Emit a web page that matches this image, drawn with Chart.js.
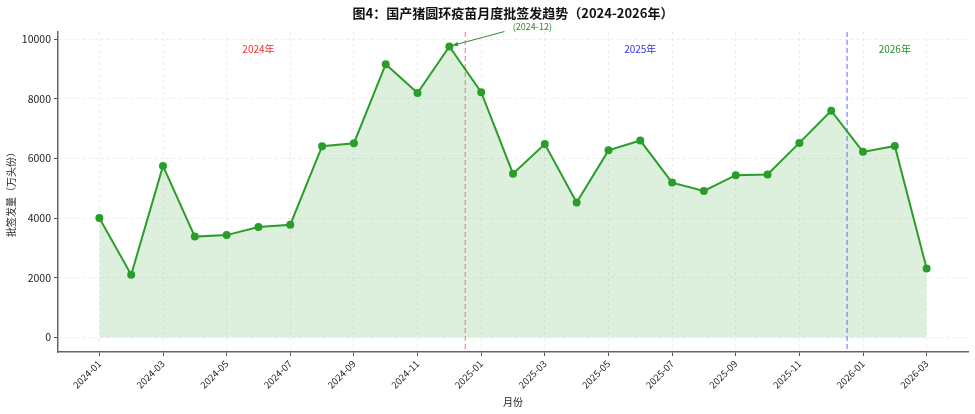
<!DOCTYPE html>
<html>
<head>
<meta charset="utf-8">
<script src="https://cdn.jsdelivr.net/npm/chart.js"></script>
<style>
	body { margin: 0; background: #fff; }
	#wrap { width: 975px; height: 414px; }
</style>
</head>
<body>
<div id="wrap"><canvas id="chart"></canvas></div>
<script>
	// monthly data, 2024-01 .. 2026-03
	const months = ['2024-01','2024-02','2024-03','2024-04','2024-05','2024-06','2024-07','2024-08','2024-09','2024-10','2024-11','2024-12',
		'2025-01','2025-02','2025-03','2025-04','2025-05','2025-06','2025-07','2025-08','2025-09','2025-10','2025-11','2025-12',
		'2026-01','2026-02','2026-03'];
	const values = [4000, 2100, 5750, 3380, 3430, 3700, 3780, 6410, 6510, 9160, 8190, 9750,
		8220, 5490, 6480, 4520, 6270, 6600, 5190, 4910, 5440, 5460, 6520, 7600,
		6220, 6420, 2310];
	const yTicks = [0, 2000, 4000, 6000, 8000, 10000];
	const xTickIdx = months.map((m, i) => i).filter(i => i % 2 === 0);
	const yearLabels = ['2024年', '2025年', '2026年'];

	const FONT = "'Noto Sans CJK SC', 'Noto Sans', sans-serif";
	const GREEN = '#2a9d2a';

	const peakIdx = values.indexOf(Math.max(...values));

	const overlay = {
		id: 'overlay',
		beforeDatasetsDraw(chart) {
			const {ctx, chartArea: a, scales: {x}} = chart;
			// year boundaries (mid-December)
			[[11.5, 'rgba(255,90,90,0.65)'], [23.5, 'rgba(90,90,255,0.7)']].forEach(([v, c]) => {
				const px = x.getPixelForValue(v);
				ctx.save();
				ctx.strokeStyle = c;
				ctx.lineWidth = 1.3;
				ctx.setLineDash([5, 3]);
				ctx.beginPath();
				ctx.moveTo(px, a.top);
				ctx.lineTo(px, a.bottom);
				ctx.stroke();
				ctx.restore();
			});
		},
		afterDatasetsDraw(chart) {
			const {ctx, chartArea: a, scales: {x, y}} = chart;
			ctx.save();
			ctx.font = '10px ' + FONT;
			ctx.textAlign = 'center';
			ctx.textBaseline = 'middle';
			const cols = ['#f03030', '#3030e8', '#2e8b2e'];
			[5, 17, 25].forEach((v, i) => {
				ctx.fillStyle = cols[i];
				ctx.fillText(yearLabels[i], x.getPixelForValue(v), a.top + 17);
			});
			// peak annotation
			const px = x.getPixelForValue(peakIdx), py = y.getPixelForValue(values[peakIdx]);
			ctx.font = '9px ' + FONT;
			ctx.fillStyle = '#2e8b2e';
			ctx.fillText('(' + months[peakIdx] + ')', px + 83, py - 20);
			const tx = px + 55, ty = py - 15, hx = px + 3, hy = py - 1;
			ctx.strokeStyle = '#2e8b2e';
			ctx.fillStyle = '#2e8b2e';
			ctx.lineWidth = 1;
			ctx.beginPath();
			ctx.moveTo(tx, ty);
			ctx.lineTo(hx, hy);
			ctx.stroke();
			const ang = Math.atan2(hy - ty, hx - tx);
			ctx.beginPath();
			ctx.moveTo(hx, hy);
			ctx.lineTo(hx - 6 * Math.cos(ang - 0.35), hy - 6 * Math.sin(ang - 0.35));
			ctx.lineTo(hx - 6 * Math.cos(ang + 0.35), hy - 6 * Math.sin(ang + 0.35));
			ctx.closePath();
			ctx.fill();
			ctx.restore();
		}
	};

	new Chart(document.getElementById('chart'), {
		type: 'line',
		data: {
			datasets: [{
				label: '批签发量',
				data: values.map((v, i) => ({x: i, y: v})),
				borderColor: GREEN,
				backgroundColor: 'rgba(44,160,44,0.16)',
				fill: 'origin',
				borderWidth: 2,
				pointRadius: 3,
				pointBackgroundColor: GREEN,
				pointBorderColor: GREEN,
				tension: 0
			}]
		},
		options: {
			responsive: true,
			maintainAspectRatio: false,
			animation: false,
			layout: { padding: { left: 0, right: 7, top: 0, bottom: 0 } },
			plugins: {
				legend: { display: false },
				tooltip: { enabled: false },
				title: {
					display: true,
					fullSize: false,
					text: '图4：国产猪圆环疫苗月度批签发趋势（2024-2026年）',
					color: '#111',
					font: { family: FONT, size: 13, weight: 'bold' },
					padding: { top: 5, bottom: 11.4 }
				}
			},
			scales: {
				x: {
					type: 'linear',
					min: -1.3,
					max: 27.3,
					afterBuildTicks: s => { s.ticks = xTickIdx.map(v => ({value: v})); },
					afterFit: s => { s.height = 62; },
					ticks: {
						callback: v => months[v],
						minRotation: 45,
						maxRotation: 45,
						autoSkip: false,
						padding: 2,
						color: '#222',
						font: { family: FONT, size: 9.5 }
					},
					grid: { color: 'rgba(0,0,0,0.07)', borderDash: [3, 3], tickColor: '#555', tickLength: 4, tickBorderDash: [] },
					border: { color: '#666', width: 1.5, dash: [3, 3] },
					title: { display: true, text: '月份', color: '#222', font: { family: FONT, size: 10 }, padding: { top: 0, bottom: 6 } }
				},
				y: {
					min: -487,
					max: 10237,
					afterBuildTicks: s => { s.ticks = yTicks.map(v => ({value: v})); },
					afterFit: s => { s.width = 58; },
					ticks: {
						callback: v => String(v),
						padding: 3,
						color: '#222',
						font: { family: FONT, size: 10.5 }
					},
					grid: { color: 'rgba(0,0,0,0.07)', borderDash: [3, 3], tickColor: '#555', tickLength: 4, tickBorderDash: [] },
					border: { color: '#666', width: 1.5, dash: [3, 3] },
					title: { display: true, text: '批签发量（万头份）', color: '#222', font: { family: FONT, size: 10 }, padding: { top: 5, bottom: 0 } }
				}
			}
		},
		plugins: [overlay]
	});
</script>
</body>
</html>
